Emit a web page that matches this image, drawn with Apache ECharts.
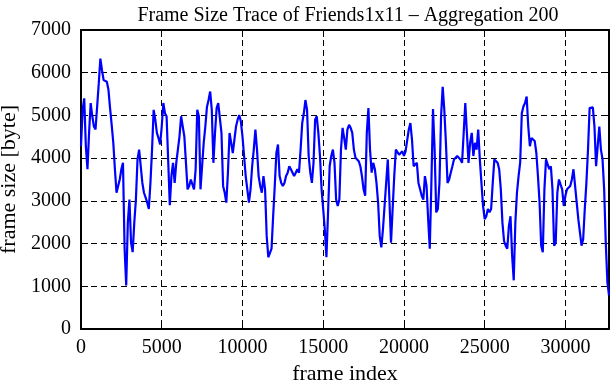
<!DOCTYPE html>
<html>
<head>
<meta charset="utf-8">
<script src="https://cdn.jsdelivr.net/npm/echarts@6/dist/echarts.min.js"></script>
<style>html,body{margin:0;padding:0;background:#fff;}#c{width:611px;height:380px;}</style>
</head>
<body>
<div id="c"></div>
<script>
const titleText = 'Frame Size Trace of Friends1x11 \u2013 Aggregation 200';
const xLabel = 'frame index';
const yLabel = 'frame size [byte]';
const frameStep = 100;
const xMax = 32700;
const xInterval = 5000;
const yMax = 7000;
const yInterval = 1000;
const frameSizes = [
4280,5130,5400,4280,3740,4590,5290,4980,4740,4670,4630,5750,6330,6060,5830,5830,5790,5600,5170,4780,
4360,3740,3190,3350,3500,3740,3890,1880,1020,2490,3030,2020,1800,2490,3030,3970,4200,3810,3420,3190,
3080,2960,2810,3420,4200,5130,4900,4590,4470,4320,4740,5290,5050,4980,
4980,2900,3580,3890,3420,3890,4200,4510,4980,4740,4510,3890,3270,3350,3500,3500,3270,3740,5130,4980,
3270,3810,4360,4740,5200,5360,5560,5130,3890,4590,5170,5290,5330,4590,3350,3190,2960,3660,4590,4360,
4120,4430,4740,4900,5010,4860,4510,4050,3580,3270,2960,3270,3810,4200,4670,
4200,3580,3350,3190,3580,3270,2180,1680,1660,1880,2640,3350,4120,4320,3580,3420,3350,3420,3580,3660,
3810,3740,3660,3580,3660,3740,3660,4200,4820,5050,5360,5130,4050,3660,3420,3890,4900,4980,4590,4050,
3270,2810,2330,1680,2720,3810,4050,4200,3890,3030,2880,3030,4200,4710,
4470,4200,4670,4780,4710,4590,4200,4010,3970,3930,3810,3580,3270,3120,4590,5170,4200,3660,3890,3740,
3420,2960,2180,1910,2330,2880,3420,3970,3030,2020,2810,3580,4200,4200,4080,4120,4160,4050,4160,4200,
4670,4820,4430,3810,3780,3890,3420,3270,3120,3030,3580,3350,2570,1880,3420,
5150,4200,2730,2810,3420,4980,5670,5130,4360,3420,3500,3660,3810,3970,4010,4050,4050,3970,3890,4590,
5290,4590,3890,4360,4590,4050,4360,4200,4670,3970,3420,2880,2570,2640,2810,2730,2810,3420,3970,4010,
3890,3740,3270,2490,2060,1950,1880,2410,2640,1720,1140,2490,3190,3580,
3900,5050,5210,5290,5440,4740,4280,4470,4430,4400,4120,3580,2960,1950,1800,3270,3970,3970,3740,3810,
3270,1950,2020,3190,3500,3540,3270,2880,3120,3270,3310,3350,3500,3740,3350,2960,2570,2260,1950,2100,
2810,3420,4200,5170,5190,5190,4740,3810,4280,4740,4200,3970,3270,2020,1100,790
];
const frames = frameSizes.map((_, i) => i * frameStep);
const seriesData = frames.map((f, i) => [f, frameSizes[i]]);

const font = 'Liberation Serif';
const plain = v => String(v);
const axisBase = {
  type: 'value',
  axisLine: { show: true, onZero: false, lineStyle: { color: '#000', width: 2 } },
  axisTick: { show: true, inside: true, length: 7, lineStyle: { color: '#000', width: 1 } },
  splitLine: { show: false }
};
const chart = echarts.init(document.getElementById('c'), null, { renderer: 'canvas' });
chart.setOption({
  animation: false,
  backgroundColor: '#fff',
  title: {
    text: titleText, left: 343, top: 1, textAlign: 'center',
    textStyle: { fontFamily: font, fontSize: 20, fontWeight: 'normal', color: '#000' }
  },
  grid: { left: 81, right: 2, top: 30, bottom: 51, containLabel: false, outerBoundsMode: 'none' },
  xAxis: [
    Object.assign({}, axisBase, {
      position: 'bottom', min: 0, max: xMax, interval: xInterval,
      name: xLabel, nameLocation: 'middle', nameGap: 34,
      nameTextStyle: { fontFamily: font, fontSize: 22, color: '#000' },
      axisLabel: { show: true, showMaxLabel: false, margin: 9, fontFamily: font, fontSize: 20, color: '#000', formatter: plain },
      splitLine: { show: true, lineStyle: { color: '#000', width: 1, type: [6, 4] } }
    }),
    Object.assign({}, axisBase, {
      position: 'top', min: 0, max: xMax, interval: xInterval,
      axisLabel: { show: false }
    })
  ],
  yAxis: [
    Object.assign({}, axisBase, {
      position: 'left', min: 0, max: yMax, interval: yInterval,
      name: yLabel, nameLocation: 'middle', nameGap: 60, nameRotate: 90,
      nameTextStyle: { fontFamily: font, fontSize: 22, color: '#000' },
      axisLabel: { show: true, margin: 10, fontFamily: font, fontSize: 20, color: '#000', formatter: plain },
      splitLine: { show: true, lineStyle: { color: '#000', width: 1, type: [6, 4] } }
    }),
    Object.assign({}, axisBase, {
      position: 'right', min: 0, max: yMax, interval: yInterval,
      axisLabel: { show: false }
    })
  ],
  series: [{
    type: 'line', data: seriesData, xAxisIndex: 0, yAxisIndex: 0,
    showSymbol: false, symbol: 'none',
    lineStyle: { color: '#0000ff', width: 2.2 },
    z: 5
  }]
});
</script>
</body>
</html>
